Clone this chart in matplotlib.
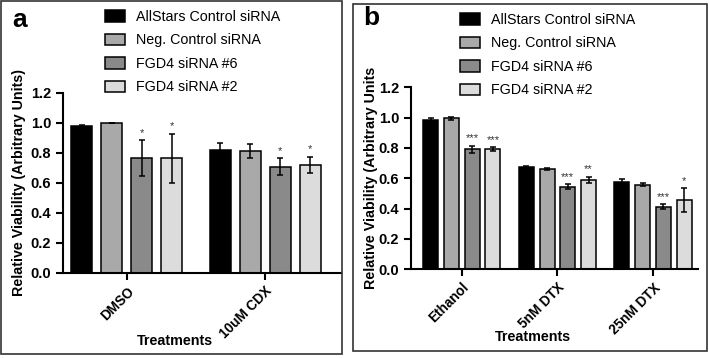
import matplotlib
matplotlib.use('Agg')
import matplotlib.pyplot as plt
from matplotlib.patches import Rectangle, Patch
import numpy as np

plt.rcParams['font.family'] = ['Liberation Sans', 'DejaVu Sans']

W, H = 709, 358

series = ['AllStars Control siRNA', 'Neg. Control siRNA', 'FGD4 siRNA #6', 'FGD4 siRNA #2']
colors = ['#000000', '#a9a9a9', '#8a8a8a', '#dcdcdc']

# panel a, one row per series
a_groups = ['DMSO', '10uM CDX']
a_means = [[0.98, 0.82], [1.0, 0.815], [0.765, 0.71], [0.765, 0.72]]
a_errs = [[0.01, 0.045], [0.0, 0.045], [0.12, 0.055], [0.165, 0.055]]
a_stars = [['', ''], ['', ''], ['*', '*'], ['*', '*']]

# panel b
b_groups = ['Ethanol', '5nM DTX', '25nM DTX']
b_means = [[0.985, 0.672, 0.578], [0.997, 0.662, 0.558], [0.79, 0.545, 0.413], [0.795, 0.59, 0.455]]
b_errs = [[0.01, 0.006, 0.02], [0.01, 0.008, 0.01], [0.025, 0.015, 0.015], [0.012, 0.02, 0.08]]
b_stars = [['', '', ''], ['', '', ''], ['***', '***', '***'], ['***', '**', '*']]

yticks = [0.0, 0.2, 0.4, 0.6, 0.8, 1.0, 1.2]


def px_axes(left, top, right, bottom):
    return [left / W, 1 - bottom / H, (right - left) / W, (bottom - top) / H]


def panel(ax, groups, means, errs, stars, gap, width, xlim, ylabel):
    centers = np.arange(len(groups)) * gap
    for i in range(len(series)):
        x = centers + (i - 1.5)
        ax.bar(x, means[i], width, color=colors[i], edgecolor='black', linewidth=1.1, zorder=2)
        ax.errorbar(x, means[i], yerr=errs[i], fmt='none', ecolor='black', elinewidth=1.1,
                    capsize=2.5, capthick=1.1, zorder=3)
        for xx, m, e, s in zip(x, means[i], errs[i], stars[i]):
            if s:
                ax.text(xx, m + e + 0.015, s, ha='center', va='bottom', fontsize=8, color='#333333')
    ax.set_xlim(*xlim)
    ax.set_ylim(0, 1.2)
    ax.set_yticks(yticks)
    ax.set_yticklabels(['%.1f' % t for t in yticks], fontweight='bold', fontsize=10.5)
    ax.set_xticks(centers)
    ax.set_xticklabels(groups, rotation=45, ha='right', rotation_mode='anchor',
                       fontweight='bold', fontsize=9.8)
    for s in ['top', 'right']:
        ax.spines[s].set_visible(False)
    for s in ['left', 'bottom']:
        ax.spines[s].set_linewidth(1.5)
    ax.tick_params(width=1.5, length=5, direction='out')
    ax.tick_params(axis='x', pad=3)
    ax.set_ylabel(ylabel, fontweight='bold', fontsize=10.3)
    return ax


fig = plt.figure(figsize=(W / 100, H / 100), dpi=100)

# panel frames
fig.patches.append(Rectangle((1 / W, 1 - 354 / H), 340.5 / W, 353 / H, transform=fig.transFigure,
                             fill=False, edgecolor='#333333', linewidth=1.2))
fig.patches.append(Rectangle((353 / W, 1 - 351 / H), 354 / W, 347 / H, transform=fig.transFigure,
                             fill=False, edgecolor='#333333', linewidth=1.2))

ax1 = fig.add_axes(px_axes(63, 93, 341, 273))
panel(ax1, a_groups, a_means, a_errs, a_stars, 4.6, 0.7, (-2.13, 7.13),
      'Relative Viability (Arbitrary Units)')
ax1.yaxis.set_label_coords(-0.133, 0.5)

ax2 = fig.add_axes(px_axes(411, 87.3, 698, 269.3))
panel(ax2, b_groups, b_means, b_errs, b_stars, 4.6, 0.72, (-2.44, 11.36),
      'Relative Viability (Arbitrary Units')
ax2.yaxis.set_label_coords(-0.115, 0.5)

handles = [Patch(facecolor=c, edgecolor='black', linewidth=1.1) for c in colors]
for lx, ly in [(105, 10), (460, 13)]:
    fig.legend(handles, series, loc='upper left', bbox_to_anchor=(lx / W, 1 - ly / H), frameon=False,
               fontsize=10.3, handlelength=1.4, handleheight=0.85, handletextpad=0.75,
               labelspacing=0.66, borderaxespad=0, borderpad=0)

fig.text(12 / W, 1 - 20 / H, 'a', fontsize=19, fontweight='bold', va='center')
fig.text(363 / W, 1 - 18 / H, 'b', fontsize=19, fontweight='bold', va='center')
fig.text(175 / W, 1 - 341 / H, 'Treatments', fontsize=10.3, fontweight='bold', ha='center', va='center')
fig.text(533 / W, 1 - 337 / H, 'Treatments', fontsize=10.3, fontweight='bold', ha='center', va='center')

fig.savefig('out.png', dpi=100)
